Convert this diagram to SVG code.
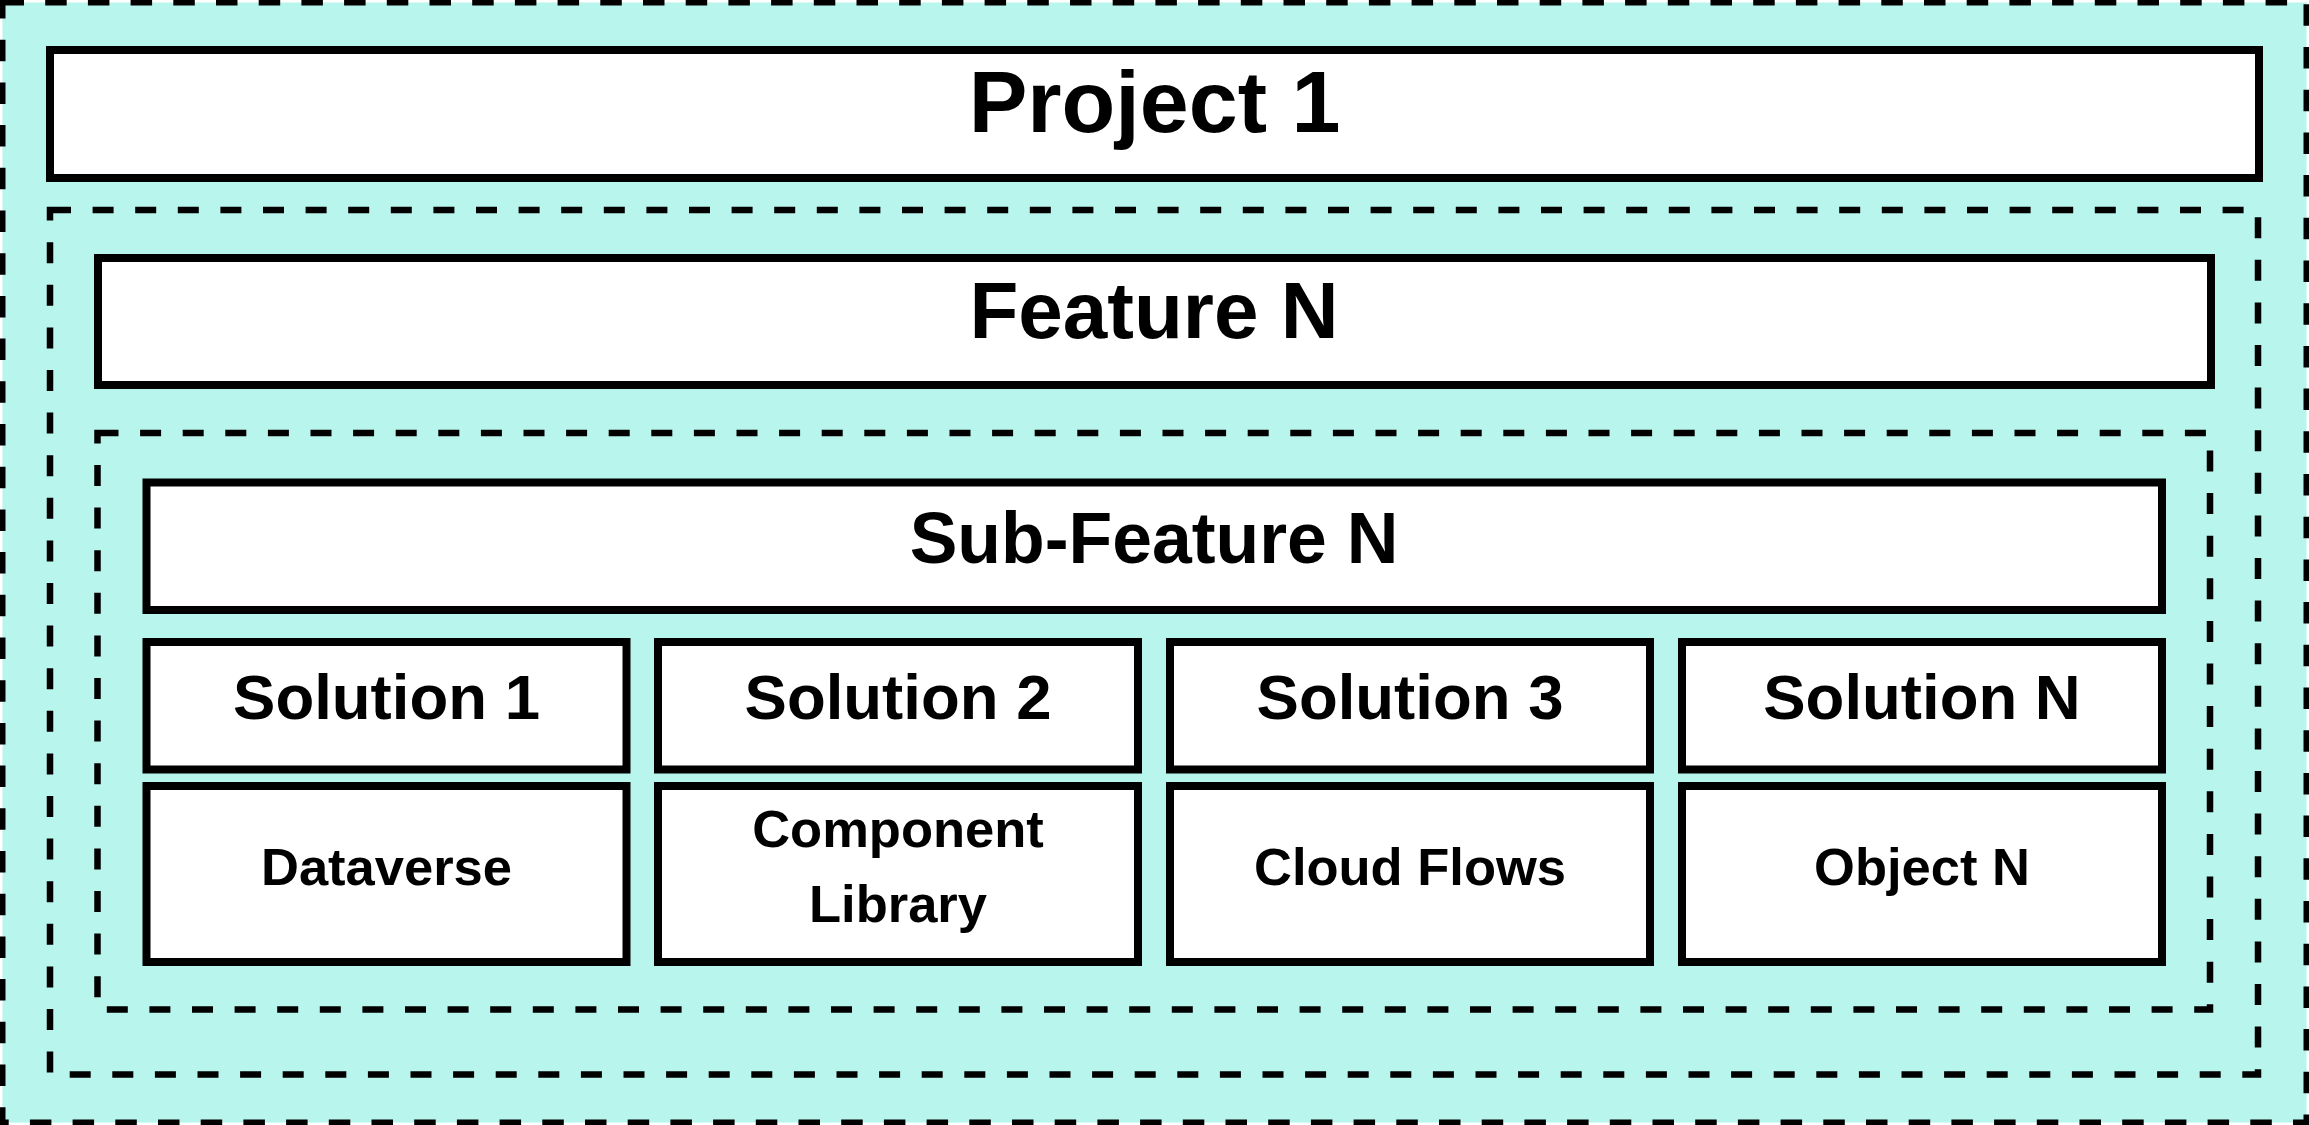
<svg xmlns="http://www.w3.org/2000/svg" width="2309" height="1125" viewBox="0 0 2309 1125">
<style>
.box{fill:#ffffff;stroke:#000000;stroke-width:8}
.dash{fill:none;stroke:#000000;stroke-width:6.5;stroke-dasharray:21 21.6}
.t{font-family:"Liberation Sans",Arial,sans-serif;font-weight:bold;fill:#000000;text-anchor:middle}
</style>
<g id="project-container">
<rect x="2.5" y="2.5" width="2304" height="1120" fill="#B8F5ED" stroke="#000000" stroke-width="6" stroke-dasharray="21.5 21.2"/>
</g>
<g id="project-1">
<rect class="box" x="50" y="50" width="2209" height="128"/>
<text class="t" x="1154.5" y="132" font-size="88">Project 1</text>
</g>
<g id="feature-container">
<rect class="dash" x="50" y="210" width="2208" height="864.5"/>
</g>
<g id="feature-n">
<rect class="box" x="98" y="258" width="2113" height="127"/>
<text class="t" x="1154" y="338" font-size="80">Feature N</text>
</g>
<g id="subfeature-container">
<rect class="dash" x="97.5" y="433" width="2112.5" height="576.5"/>
</g>
<g id="sub-feature-n">
<rect class="box" x="146.5" y="482.5" width="2015.5" height="127.5"/>
<text class="t" x="1154" y="562.5" font-size="71.5">Sub-Feature N</text>
</g>
<g id="solution-1">
<rect class="box" x="146.5" y="642" width="480" height="127.5"/>
<text class="t" x="386.5" y="719" font-size="63.5">Solution 1</text>
</g>
<g id="solution-2">
<rect class="box" x="658" y="642" width="480" height="127.5"/>
<text class="t" x="898" y="719" font-size="63.5">Solution 2</text>
</g>
<g id="solution-3">
<rect class="box" x="1170" y="642" width="480" height="127.5"/>
<text class="t" x="1410" y="719" font-size="63.5">Solution 3</text>
</g>
<g id="solution-n">
<rect class="box" x="1682" y="642" width="480" height="127.5"/>
<text class="t" x="1922" y="719" font-size="63.5">Solution N</text>
</g>
<g id="dataverse">
<rect class="box" x="146.5" y="786" width="480" height="176"/>
<text class="t" x="386.5" y="885" font-size="52.5">Dataverse</text>
</g>
<g id="component-library">
<rect class="box" x="658" y="786" width="480" height="176"/>
<text class="t" x="898" y="846.5" font-size="52.5">Component</text>
<text class="t" x="898" y="921.5" font-size="52.5">Library</text>
</g>
<g id="cloud-flows">
<rect class="box" x="1170" y="786" width="480" height="176"/>
<text class="t" x="1410" y="885" font-size="52.5">Cloud Flows</text>
</g>
<g id="object-n">
<rect class="box" x="1682" y="786" width="480" height="176"/>
<text class="t" x="1922" y="885" font-size="52.5">Object N</text>
</g>
<g id="connectors"></g>
</svg>
